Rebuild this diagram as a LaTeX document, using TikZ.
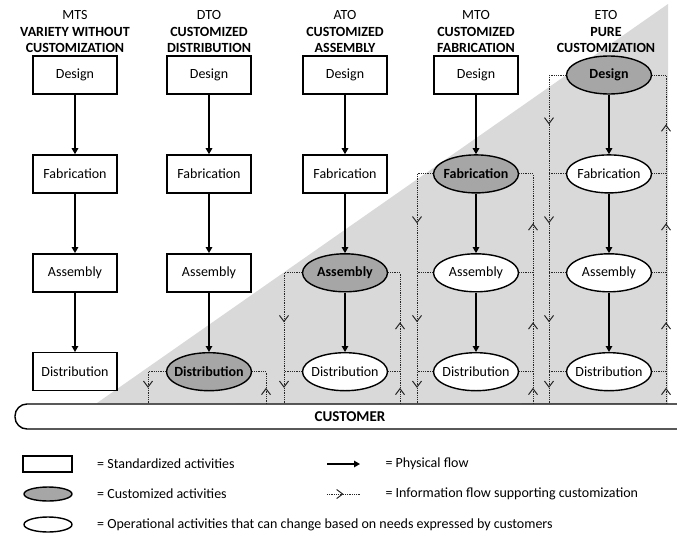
\documentclass[tikz,border=0pt]{standalone}
\usepackage{fontspec}
\setmainfont{Carlito}
\usetikzlibrary{shapes.geometric, arrows.meta, positioning, decorations.markings}

\begin{document}
\begin{tikzpicture}[
		x=1pt, y=1pt,
		node distance=59.5pt and 20pt,
		every node/.style={font=\fontsize{14}{16.5}\selectfont},
		head/.style={align=center, inner sep=0pt},
		stdact/.style={rectangle, draw, line width=1.4pt, fill=white, minimum width=84pt, minimum height=38pt, inner sep=0pt},
		cusact/.style={ellipse, draw, line width=1.4pt, fill=gray!70, minimum width=85pt, minimum height=38pt, inner xsep=-10pt, inner ysep=0pt, font=\fontsize{14}{16.5}\selectfont\bfseries},
		opact/.style={ellipse, draw, line width=1.4pt, fill=white, minimum width=85pt, minimum height=38pt, inner xsep=-10pt, inner ysep=0pt},
		bar/.style={rectangle, draw, line width=1.4pt, fill=white, rounded corners=12pt, minimum width=690pt, minimum height=25pt},
		flow/.style={-{Triangle[length=6pt, width=6.5pt]}, line width=1.3pt},
		info/.style={line width=0.9pt, black!85, dash pattern=on 0.9pt off 0.9pt},
		infoedge/.style={info, postaction={decorate}, decoration={markings, mark=at position 0.5 with {\arrow{Straight Barb[length=6pt, width=9pt, line width=1pt]}}}}
		]
		\useasboundingbox (0,0) rectangle (677,-533);
		% Customization area
		\fill[gray!30] (97,-403) -- (668,-4) -- (668,-404) -- cycle;
		
		% Headers
		\node[head] (mts-head) at (75,-32) {MTS\\\textbf{VARIETY WITHOUT}\\\textbf{CUSTOMIZATION}};
		\node[head] (dto-head) at (209,-32) {DTO\\\textbf{CUSTOMIZED}\\\textbf{DISTRIBUTION}};
		\node[head] (ato-head) at (345,-32) {ATO\\\textbf{CUSTOMIZED}\\\textbf{ASSEMBLY}};
		\node[head] (mto-head) at (476,-32) {MTO\\\textbf{CUSTOMIZED}\\\textbf{FABRICATION}};
		\node[head] (eto-head) at (606,-32) {ETO\\\textbf{PURE}\\\textbf{CUSTOMIZATION}};
		
		% Nodes
		\node[stdact] (mts-des) at (75,-75) {Design};
		\node[stdact] (mts-fab) [below=of mts-des] {Fabrication};
		\node[stdact] (mts-asm) [below=of mts-fab] {Assembly};
		\node[stdact] (mts-dis) [below=of mts-asm] {Distribution};
		
		\node[stdact] (dto-des) at (209,-75) {Design};
		\node[stdact] (dto-fab) [below=of dto-des] {Fabrication};
		\node[stdact] (dto-asm) [below=of dto-fab] {Assembly};
		\node[cusact] (dto-dis) [below=of dto-asm] {Distribution};
		
		\node[stdact] (ato-des) at (345,-75) {Design};
		\node[stdact] (ato-fab) [below=of ato-des] {Fabrication};
		\node[cusact] (ato-asm) [below=of ato-fab] {Assembly};
		\node[opact] (ato-dis) [below=of ato-asm] {Distribution};
		
		\node[stdact] (mto-des) at (476,-75) {Design};
		\node[cusact] (mto-fab) [below=of mto-des] {Fabrication};
		\node[opact] (mto-asm) [below=of mto-fab] {Assembly};
		\node[opact] (mto-dis) [below=of mto-asm] {Distribution};
		
		\node[cusact] (eto-des) at (609,-75) {Design};
		\node[opact] (eto-fab) [below=of eto-des] {Fabrication};
		\node[opact] (eto-asm) [below=of eto-fab] {Assembly};
		\node[opact] (eto-dis) [below=of eto-asm] {Distribution};
		
		\node[bar] (customer) at (360,-416.5) {};
		\node[font=\fontsize{15}{18}\selectfont\bfseries] (cust-txt) at (350,-417) {CUSTOMER};
		
		% Physical flow
		\draw[flow] (mts-des) -- (mts-fab);
		\draw[flow] (mts-fab) -- (mts-asm);
		\draw[flow] (mts-asm) -- (mts-dis);
		\draw[flow] (dto-des) -- (dto-fab);
		\draw[flow] (dto-fab) -- (dto-asm);
		\draw[flow] (dto-asm) -- (dto-dis);
		\draw[flow] (ato-des) -- (ato-fab);
		\draw[flow] (ato-fab) -- (ato-asm);
		\draw[flow] (ato-asm) -- (ato-dis);
		\draw[flow] (mto-des) -- (mto-fab);
		\draw[flow] (mto-fab) -- (mto-asm);
		\draw[flow] (mto-asm) -- (mto-dis);
		\draw[flow] (eto-des) -- (eto-fab);
		\draw[flow] (eto-fab) -- (eto-asm);
		\draw[flow] (eto-asm) -- (eto-dis);
		
		% Information flow
		\coordinate (dtoL) at (148,-404);
		\coordinate (dtoR) at (266,-404);
		\coordinate (atoL) at (284,-404);
		\coordinate (atoR) at (400,-404);
		\coordinate (mtoL) at (417,-404);
		\coordinate (mtoR) at (533,-404);
		\coordinate (etoL) at (549,-404);
		\coordinate (etoR) at (666,-404);
		
		\draw[info] (dto-dis.west) -- (dto-dis.west -| dtoL) edge[infoedge] (dtoL);
		\draw[info] (dto-dis.east) -- (dto-dis.east -| dtoR) (dtoR) edge[infoedge] (dto-dis.east -| dtoR);
		
		\draw[info] (ato-asm.west) -- (ato-asm.west -| atoL) edge[infoedge] (ato-dis.west -| atoL)
			(ato-dis.west) -- (ato-dis.west -| atoL) edge[infoedge] (atoL);
		\draw[info] (ato-asm.east) -- (ato-asm.east -| atoR) (ato-dis.east -| atoR) edge[infoedge] (ato-asm.east -| atoR)
			(ato-dis.east) -- (ato-dis.east -| atoR) (atoR) edge[infoedge] (ato-dis.east -| atoR);
		
		\draw[info] (mto-fab.west) -- (mto-fab.west -| mtoL) edge[infoedge] (mto-asm.west -| mtoL)
			(mto-asm.west) -- (mto-asm.west -| mtoL) edge[infoedge] (mto-dis.west -| mtoL)
			(mto-dis.west) -- (mto-dis.west -| mtoL) edge[infoedge] (mtoL);
		\draw[info] (mto-fab.east) -- (mto-fab.east -| mtoR) (mto-asm.east -| mtoR) edge[infoedge] (mto-fab.east -| mtoR)
			(mto-asm.east) -- (mto-asm.east -| mtoR) (mto-dis.east -| mtoR) edge[infoedge] (mto-asm.east -| mtoR)
			(mto-dis.east) -- (mto-dis.east -| mtoR) (mtoR) edge[infoedge] (mto-dis.east -| mtoR);
		
		\draw[info] (eto-des.west) -- (eto-des.west -| etoL) edge[infoedge] (eto-fab.west -| etoL)
			(eto-fab.west) -- (eto-fab.west -| etoL) edge[infoedge] (eto-asm.west -| etoL)
			(eto-asm.west) -- (eto-asm.west -| etoL) edge[infoedge] (eto-dis.west -| etoL)
			(eto-dis.west) -- (eto-dis.west -| etoL) edge[infoedge] (etoL);
		\draw[info] (eto-des.east) -- (eto-des.east -| etoR) (eto-fab.east -| etoR) edge[infoedge] (eto-des.east -| etoR)
			(eto-fab.east) -- (eto-fab.east -| etoR) (eto-asm.east -| etoR) edge[infoedge] (eto-fab.east -| etoR)
			(eto-asm.east) -- (eto-asm.east -| etoR) (eto-dis.east -| etoR) edge[infoedge] (eto-asm.east -| etoR)
			(eto-dis.east) -- (eto-dis.east -| etoR) (etoR) edge[infoedge] (eto-dis.east -| etoR);
		
		% Legend
		\node[stdact, minimum width=49pt, minimum height=16pt] (leg-std) at (47.5,-464) {};
		\node[cusact, minimum width=48pt, minimum height=14pt] (leg-cus) at (48,-494) {};
		\node[opact, minimum width=48pt, minimum height=15pt] (leg-op) at (48,-524.5) {};
		\node (leg-std-txt) [right=21pt of leg-std] {= Standardized activities};
		\node (leg-cus-txt) [right=21pt of leg-cus] {= Customized activities};
		\node (leg-op-txt) [right=21pt of leg-op] {= Operational activities that can change based on needs expressed by customers};
		
		\coordinate (phys-a) at (327,-464);
		\coordinate (phys-b) at (360,-464);
		\coordinate (info-a) at (327,-494);
		\coordinate (info-b) at (360,-494);
		\draw[flow] (phys-a) -- (phys-b);
		\path (info-a) edge[infoedge] (info-b);
		\node[anchor=west] (phys-txt) at (382,-464) {= Physical flow};
		\node[anchor=west] (info-txt) at (382,-494) {= Information flow supporting customization};
	\end{tikzpicture}
\end{document}
